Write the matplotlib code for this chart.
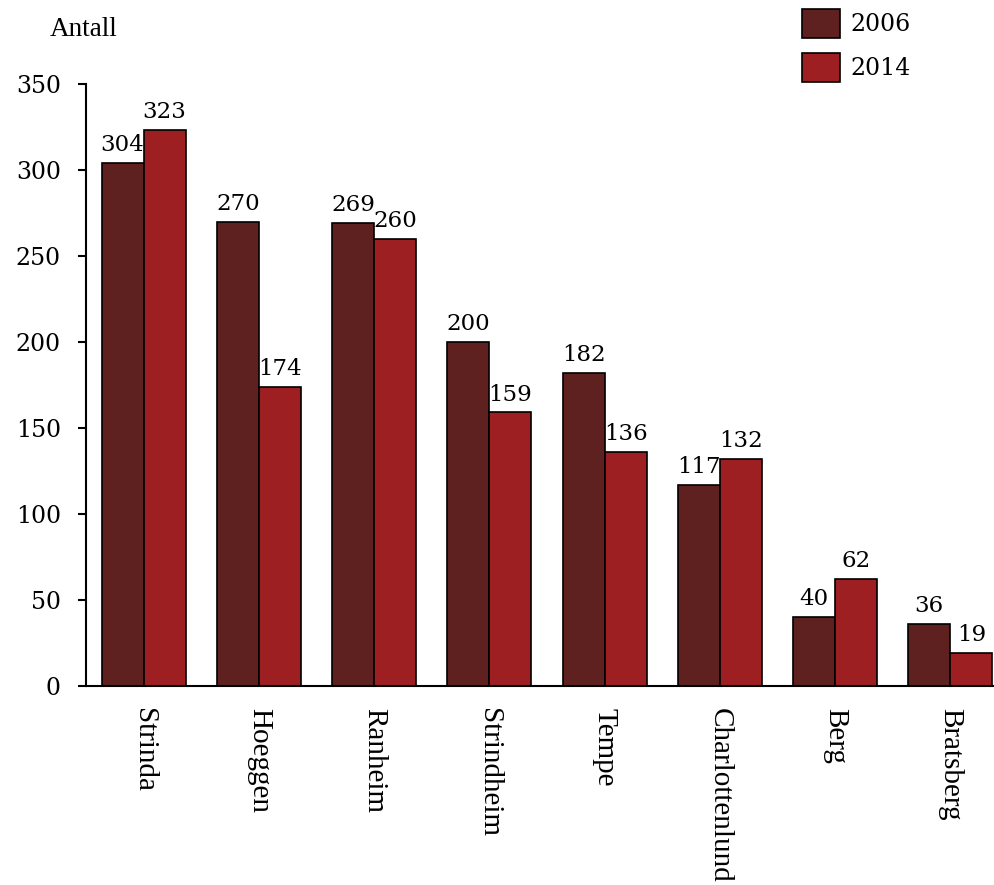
import matplotlib
matplotlib.use("Agg")
import matplotlib.pyplot as plt
import numpy as np

categories = ["Strinda", "Hoeggen", "Ranheim", "Strindheim", "Tempe",
              "Charlottenlund", "Berg", "Bratsberg"]
values_2006 = [304, 270, 269, 200, 182, 117, 40, 36]
values_2014 = [323, 174, 260, 159, 136, 132, 62, 19]
series_labels = ["2006", "2014"]
y_ticks = [0, 50, 100, 150, 200, 250, 300, 350]

c2006 = "#5f2120"
c2014 = "#9e1f21"
num_font = "DejaVu Serif"
txt_font = "Liberation Serif"

fig = plt.figure(figsize=(9.94, 8.85), dpi=100)
ax = fig.add_axes([0.0865, 0.2249, 0.9125, 0.6802])

x = np.arange(len(categories))
w = 0.365
b1 = ax.bar(x - w / 2, values_2006, w, color=c2006, edgecolor="black", linewidth=1.2,
            label=series_labels[0])
b2 = ax.bar(x + w / 2, values_2014, w, color=c2014, edgecolor="black", linewidth=1.2,
            label=series_labels[1])

for bars, vals in ((b1, values_2006), (b2, values_2014)):
    for r, v in zip(bars, vals):
        ax.annotate(str(v), (r.get_x() + r.get_width() / 2, v), xytext=(0, 5),
                    textcoords="offset points", ha="center", va="bottom",
                    fontsize=16.5, family=num_font)

ax.set_xlim(-0.5, 7.37)
ax.set_ylim(0, 350)
ax.set_yticks(y_ticks)
ax.set_yticklabels([str(t) for t in y_ticks], family=num_font, fontsize=17)
ax.set_xticks(x)
ax.set_xticklabels(categories, rotation=-90, family=txt_font, fontsize=21,
                   va="top", ha="center")
ax.tick_params(axis="x", length=0, pad=16)
ax.tick_params(axis="y", length=6, width=1.5, direction="out", pad=12)
for s in ("top", "right"):
    ax.spines[s].set_visible(False)
for s in ("left", "bottom"):
    ax.spines[s].set_linewidth(1.5)

fig.text(50 / 994, 1 - 30 / 885, "Antall", family=txt_font, fontsize=19.5,
         ha="left", va="center")

leg = fig.legend(handles=[b1, b2], labels=series_labels, loc="upper left",
                 bbox_to_anchor=(802 / 994, 1 - 9 / 885), frameon=False,
                 prop={"family": num_font, "size": 17}, handlelength=1.61,
                 handleheight=1.5, labelspacing=0.65, handletextpad=0.45,
                 borderpad=0, borderaxespad=0)

fig.savefig("out.png", dpi=100)
